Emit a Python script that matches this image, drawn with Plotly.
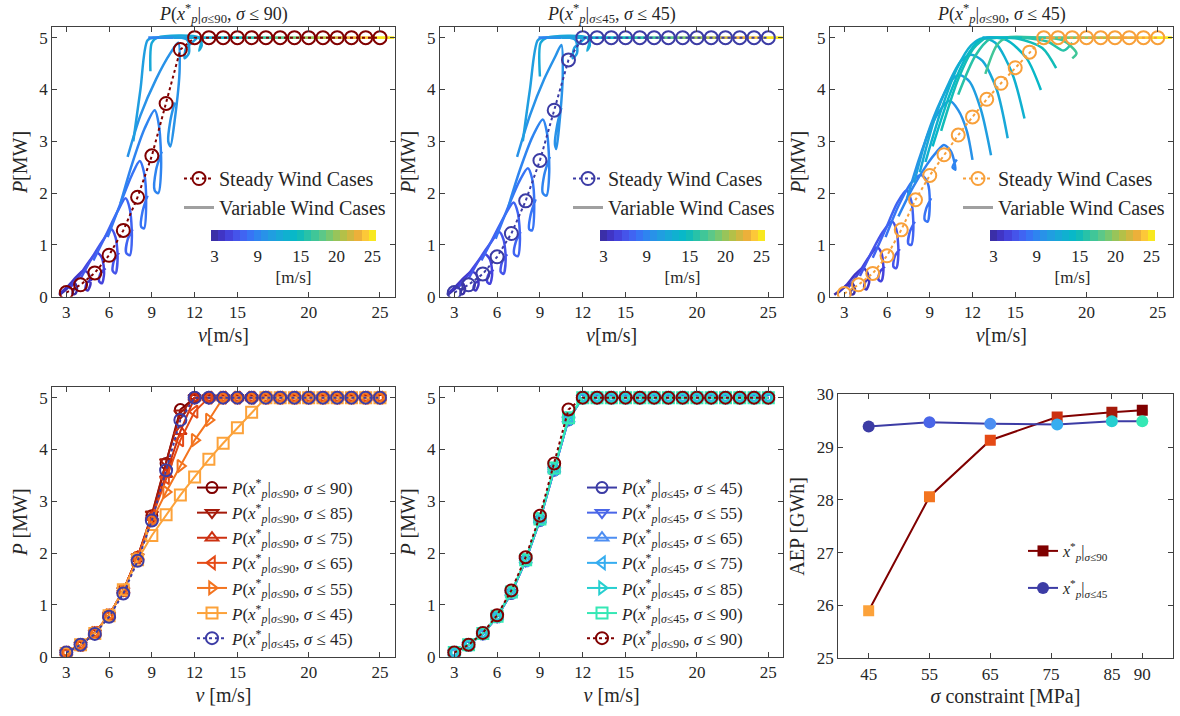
import plotly.graph_objects as go

FONT = "Liberation Serif, DejaVu Serif, serif"
TXT = "#262626"
AXC = "#404040"

# ---------------- data ----------------
WIND = [3, 4, 5, 6, 7, 8, 9, 10, 11, 12, 13, 14, 15, 16, 17, 18, 19, 20, 21, 22, 23, 24, 25]
PARULA = ["#3b2fa8", "#4035c5", "#4443dc", "#4554ea", "#4064f2", "#3774f5", "#2e84f0", "#2892e8",
          "#209ee0", "#18a8d8", "#10b0d0", "#08b8c8", "#12bcb8", "#28c2a8", "#40c698", "#5cc888",
          "#78c870", "#98c45a", "#b4c048", "#d0b840", "#ecb03a", "#fcc838", "#f8e820"]
CB_TICKS = [3, 9, 15, 20, 25]

# steady power curves [MW] at WIND
P_S90_90 = [0.08, 0.23, 0.46, 0.80, 1.28, 1.92, 2.72, 3.73, 4.77, 5, 5, 5, 5, 5, 5, 5, 5, 5, 5, 5, 5, 5, 5]
P_S90_85 = [0.08, 0.23, 0.46, 0.80, 1.28, 1.93, 2.75, 3.76, 4.70, 5, 5, 5, 5, 5, 5, 5, 5, 5, 5, 5, 5, 5, 5]
P_S90_75 = [0.08, 0.23, 0.46, 0.80, 1.28, 1.92, 2.70, 3.52, 4.35, 5, 5, 5, 5, 5, 5, 5, 5, 5, 5, 5, 5, 5, 5]
P_S90_65 = [0.08, 0.23, 0.46, 0.80, 1.28, 1.92, 2.68, 3.45, 4.18, 4.73, 5, 5, 5, 5, 5, 5, 5, 5, 5, 5, 5, 5, 5]
P_S90_55 = [0.08, 0.23, 0.46, 0.80, 1.27, 1.90, 2.62, 3.18, 3.68, 4.18, 4.57, 5, 5, 5, 5, 5, 5, 5, 5, 5, 5, 5, 5]
P_S90_45 = [0.06, 0.23, 0.45, 0.79, 1.29, 1.87, 2.34, 2.74, 3.12, 3.47, 3.81, 4.12, 4.42, 4.72, 5, 5, 5, 5, 5, 5, 5, 5, 5]
P_S45_45 = [0.08, 0.23, 0.44, 0.77, 1.22, 1.85, 2.63, 3.60, 4.57, 5, 5, 5, 5, 5, 5, 5, 5, 5, 5, 5, 5, 5, 5]
P_S45_55 = [0.08, 0.23, 0.44, 0.77, 1.23, 1.85, 2.63, 3.61, 4.58, 5, 5, 5, 5, 5, 5, 5, 5, 5, 5, 5, 5, 5, 5]
P_S45_65 = [0.08, 0.23, 0.44, 0.77, 1.23, 1.86, 2.64, 3.61, 4.58, 5, 5, 5, 5, 5, 5, 5, 5, 5, 5, 5, 5, 5, 5]
P_S45_75 = [0.08, 0.23, 0.45, 0.78, 1.24, 1.86, 2.65, 3.62, 4.59, 5, 5, 5, 5, 5, 5, 5, 5, 5, 5, 5, 5, 5, 5]
P_S45_85 = [0.08, 0.23, 0.45, 0.78, 1.24, 1.87, 2.66, 3.63, 4.60, 5, 5, 5, 5, 5, 5, 5, 5, 5, 5, 5, 5, 5, 5]
P_S45_90 = [0.08, 0.23, 0.45, 0.78, 1.25, 1.87, 2.66, 3.64, 4.61, 5, 5, 5, 5, 5, 5, 5, 5, 5, 5, 5, 5, 5, 5]

# variable wind trajectories (mean wind speed, v [m/s], P [MW])
TL_LOOPS = [
    (3, [2.5, 2.9, 3.3, 3.6, 3.75, 3.65, 3.45, 3.5, 3.8], [0.03, 0.12, 0.22, 0.26, 0.16, 0.06, 0.05, 0.13, 0.18]),
    (4, [2.5, 3.1, 3.7, 4.2, 4.55, 4.7, 4.5, 4.35, 4.45, 4.8], [0.05, 0.20, 0.38, 0.50, 0.45, 0.25, 0.12, 0.15, 0.27, 0.33]),
    (5, [3.2, 3.9, 4.6, 5.15, 5.5, 5.65, 5.5, 5.3, 5.4, 5.75], [0.15, 0.40, 0.68, 0.85, 0.75, 0.45, 0.26, 0.30, 0.45, 0.55]),
    (6, [4.0, 4.8, 5.6, 6.15, 6.45, 6.6, 6.45, 6.25, 6.35, 6.7], [0.35, 0.75, 1.10, 1.30, 1.15, 0.75, 0.45, 0.50, 0.70, 0.85]),
    (7, [4.9, 5.8, 6.6, 7.15, 7.45, 7.6, 7.45, 7.2, 7.3, 7.65], [0.70, 1.20, 1.65, 1.90, 1.70, 1.15, 0.80, 0.85, 1.10, 1.30]),
    (8, [5.9, 6.8, 7.6, 8.15, 8.45, 8.6, 8.45, 8.25, 8.35, 8.7], [1.15, 1.80, 2.35, 2.62, 2.40, 1.80, 1.32, 1.35, 1.65, 1.95]),
    (9, [6.8, 7.6, 8.5, 9.2, 9.5, 9.65, 9.45, 9.2, 9.3, 9.7], [1.80, 2.55, 3.25, 3.60, 3.30, 2.50, 2.00, 2.05, 2.45, 2.80]),
    (10, [7.3, 8.2, 9.3, 10.3, 10.85, 10.95, 10.6, 10.3, 10.15, 10.3, 10.6], [2.70, 3.50, 4.20, 4.70, 4.90, 4.40, 3.40, 2.90, 3.00, 3.40, 3.75]),
    (11, [7.7, 8.2, 8.7, 9.2, 11.0, 11.5, 11.6, 11.3, 11.4, 11.8, 12.2], [3.00, 4.00, 4.95, 5.00, 5.00, 4.95, 4.70, 4.60, 4.80, 4.90, 5.00]),
    (12, [8.9, 9.0, 9.4, 12.3, 12.5, 12.3, 12.6], [4.35, 4.90, 5.00, 5.00, 4.85, 4.75, 5.00]),
]
TM_LOOPS = [
    (3, [2.5, 2.9, 3.3, 3.6, 3.75, 3.65, 3.45, 3.5, 3.8], [0.03, 0.12, 0.21, 0.25, 0.16, 0.06, 0.05, 0.13, 0.18]),
    (4, [2.5, 3.1, 3.7, 4.2, 4.55, 4.7, 4.5, 4.35, 4.45, 4.8], [0.05, 0.20, 0.37, 0.48, 0.43, 0.24, 0.12, 0.15, 0.26, 0.32]),
    (5, [3.2, 3.9, 4.6, 5.15, 5.5, 5.65, 5.5, 5.3, 5.4, 5.75], [0.15, 0.40, 0.66, 0.82, 0.72, 0.43, 0.25, 0.29, 0.43, 0.52]),
    (6, [4.0, 4.8, 5.6, 6.15, 6.45, 6.6, 6.45, 6.25, 6.35, 6.7], [0.35, 0.74, 1.06, 1.25, 1.10, 0.72, 0.44, 0.48, 0.67, 0.82]),
    (7, [4.9, 5.8, 6.6, 7.15, 7.45, 7.6, 7.45, 7.2, 7.3, 7.65], [0.70, 1.18, 1.60, 1.82, 1.62, 1.10, 0.78, 0.82, 1.05, 1.25]),
    (8, [5.9, 6.8, 7.6, 8.15, 8.45, 8.6, 8.45, 8.25, 8.35, 8.7], [1.12, 1.75, 2.25, 2.48, 2.28, 1.72, 1.28, 1.30, 1.58, 1.88]),
    (9, [6.8, 7.6, 8.5, 9.2, 9.5, 9.65, 9.45, 9.2, 9.3, 9.7], [1.75, 2.45, 3.10, 3.42, 3.15, 2.40, 1.95, 2.00, 2.35, 2.70]),
    (10, [7.4, 8.3, 9.3, 10.1, 10.5, 10.6, 10.35, 10.15, 10.05, 10.2, 10.5], [2.70, 3.50, 4.20, 4.65, 4.86, 4.30, 3.30, 2.85, 2.95, 3.30, 3.65]),
    (11, [7.8, 8.3, 8.85, 9.3, 11.0, 11.5, 11.6, 11.3, 11.4, 11.8, 12.2], [3.00, 4.00, 4.95, 5.00, 5.00, 4.95, 4.70, 4.60, 4.80, 4.90, 5.00]),
    (12, [9.0, 9.05, 9.5, 12.3, 12.5, 12.3, 12.6], [4.25, 4.90, 5.00, 5.00, 4.85, 4.75, 5.00]),
]
TR_LOOPS = [
    (3, [2.3, 2.8, 3.2, 3.55, 3.75, 3.65, 3.45, 3.5, 3.8], [0.04, 0.14, 0.22, 0.26, 0.15, 0.05, 0.05, 0.13, 0.18]),
    (4, [2.5, 3.2, 3.8, 4.3, 4.6, 4.75, 4.55, 4.4, 4.5, 4.85], [0.06, 0.24, 0.44, 0.55, 0.48, 0.28, 0.14, 0.17, 0.30, 0.36]),
    (5, [3.3, 4.0, 4.7, 5.3, 5.6, 5.75, 5.6, 5.4, 5.5, 5.85], [0.18, 0.45, 0.75, 0.95, 0.85, 0.50, 0.30, 0.33, 0.48, 0.58]),
    (6, [4.1, 4.9, 5.7, 6.35, 6.65, 6.8, 6.65, 6.45, 6.55, 6.9], [0.40, 0.85, 1.25, 1.45, 1.30, 0.85, 0.55, 0.58, 0.78, 0.92]),
    (7, [5.0, 5.9, 6.7, 7.35, 7.7, 7.85, 7.7, 7.5, 7.6, 7.95], [0.75, 1.30, 1.80, 2.05, 1.85, 1.30, 1.00, 1.02, 1.25, 1.45]),
    (8, [5.9, 6.8, 7.7, 8.4, 8.85, 9.0, 8.85, 8.65, 8.75, 9.1], [1.15, 1.75, 2.20, 2.35, 2.20, 1.80, 1.45, 1.48, 1.70, 1.90]),
    (9, [6.8, 7.8, 8.8, 9.5, 10.0, 10.5, 10.8, 10.6, 10.9], [1.55, 2.10, 2.55, 2.80, 2.93, 2.80, 2.45, 2.50, 2.65]),
    (10, [7.4, 8.3, 9.2, 10.0, 10.4, 11.0, 11.6, 12.0], [1.90, 2.70, 3.35, 3.70, 3.78, 3.60, 3.20, 2.64]),
    (11, [7.9, 8.8, 9.8, 10.6, 11.1, 11.8, 12.6, 13.3], [2.20, 3.10, 3.80, 4.20, 4.28, 4.15, 3.60, 2.73]),
    (12, [8.3, 9.3, 10.3, 11.2, 11.9, 12.7, 13.7, 14.47], [2.40, 3.40, 4.10, 4.55, 4.67, 4.55, 4.00, 3.06]),
    (13, [8.7, 9.8, 10.9, 11.9, 12.7, 13.6, 14.8, 15.65], [2.60, 3.60, 4.40, 4.85, 4.99, 4.90, 4.30, 3.44]),
    (14, [9.2, 10.4, 11.5, 12.5, 13.2, 14.4, 15.8, 16.8], [2.90, 3.90, 4.60, 4.95, 5.00, 4.95, 4.60, 3.99]),
    (15, [9.8, 11.0, 12.1, 13.0, 13.6, 15.2, 16.9, 17.87], [3.20, 4.20, 4.80, 5.00, 5.00, 4.98, 4.80, 4.41]),
    (16, [11.0, 12.2, 13.2, 13.9, 15.5, 17.3, 18.4, 19.0], [3.90, 4.65, 4.97, 5.00, 5.00, 4.92, 4.75, 4.90]),
    (17, [12.9, 13.7, 14.4, 16.5, 18.3, 19.3, 19.0], [4.30, 4.85, 5.00, 5.00, 4.95, 4.70, 4.60]),
]
# rated-power plateau of the variable wind cases (segment edges in v)
FLAT_TL = [8.75, 9.5, 10.5, 11.5, 12.5, 13.5, 14.5, 15.5, 16.5, 17.5, 18.5, 19.5, 20.5, 21.5, 22.5, 23.5, 24.5, 25.5, 26.0]
FLAT_TM = [8.9, 9.5, 10.5, 11.5, 12.5, 13.5, 14.5, 15.5, 16.5, 17.5, 18.5, 19.5, 20.5, 21.5, 22.5, 23.5, 24.5, 25.5, 26.0]
FLAT_TR = [12.7, 13.5, 14.5, 15.5, 16.5, 17.5, 18.5, 19.5, 20.5, 21.5, 22.5, 23.5, 24.5, 25.5, 26.0]
P_RATED = 5.0

# AEP
SIGMA = [45, 55, 65, 76, 85, 90]
SIGMA_TICKS = [45, 55, 65, 75, 85, 90]
AEP_S90 = [25.90, 28.06, 29.13, 29.57, 29.66, 29.70]
AEP_S45 = [29.39, 29.47, 29.44, 29.43, 29.49, 29.49]

# ---------------- styles ----------------
RED_SHADES = ["#7f0000", "#a51a0a", "#cc3010", "#e54a15", "#f3741f", "#fca23a"]   # sigma 90 -> 45
BLUE_SHADES = ["#3c3ca5", "#4a66e8", "#4d8ef2", "#35adf0", "#26cfd0", "#35e8b5"]  # sigma 45 -> 90
NAVY = "#3c3ca5"
MAROON = "#800000"
ORANGE = "#f8a03a"


def col_at(v):
    i = int(round(v)) - WIND[0]
    i = max(0, min(len(PARULA) - 1, i))
    return PARULA[i]


def lab(design, cons):
    return ("<i>P</i>(<i>x</i><sup>*</sup><sub><i>p</i></sub>|<sub><i>σ</i>≤%d</sub>, <i>σ</i> ≤ %d)"
            % (design, cons))


fig = go.Figure()

X1 = [0.0441, 0.3347]
X2 = [0.3729, 0.6638]
X3 = [0.7034, 0.9938]
X6 = [0.7104, 0.9938]
YT = [0.5856, 0.9619]
YB = [0.0828, 0.4591]
Y6 = [0.0806, 0.4493]

CS = []
n = len(PARULA)
for i, c in enumerate(PARULA):
    CS.append([i / n, c])
    CS.append([(i + 1) / n, c])


def top_panel(k, loops, flat, steady, scol, legname, cbx):
    xa = "x" if k == 1 else "x%d" % k
    ya = "y" if k == 1 else "y%d" % k
    for V, vv, pp in loops:
        fig.add_trace(go.Scatter(x=vv, y=pp, mode="lines", xaxis=xa, yaxis=ya,
                                 line=dict(color=col_at(V), width=2.5, shape="spline", smoothing=0.8),
                                 showlegend=False, hoverinfo="skip"))
    for a, b in zip(flat[:-1], flat[1:]):
        fig.add_trace(go.Scatter(x=[a, b], y=[P_RATED, P_RATED], mode="lines", xaxis=xa, yaxis=ya,
                                 line=dict(color=col_at((a + b) / 2), width=2.8),
                                 showlegend=False, hoverinfo="skip"))
    fig.add_trace(go.Scatter(x=WIND, y=steady, mode="lines+markers", xaxis=xa, yaxis=ya,
                             name="Steady Wind Cases", legend=legname, legendgroup="a",
                             line=dict(color=scol, width=2, dash="dot"),
                             marker=dict(symbol="circle-open", size=13, line=dict(width=2, color=scol))))
    fig.add_trace(go.Scatter(x=[None], y=[None], mode="lines", xaxis=xa, yaxis=ya,
                             name="Variable Wind Cases", legend=legname, legendgroup="b",
                             line=dict(color="#a0a0a0", width=3)))
    fig.add_trace(go.Scatter(x=[None], y=[None], mode="markers", xaxis=xa, yaxis=ya, showlegend=False,
                             hoverinfo="skip",
                             marker=dict(color=[WIND[0]], colorscale=CS, cmin=2.5, cmax=25.5, showscale=True,
                                         colorbar=dict(orientation="h", x=cbx, xanchor="center",
                                                       y=1 - 230 / 716, yanchor="top", len=165 / 1180,
                                                       lenmode="fraction", thickness=11, outlinewidth=0,
                                                       xpad=0, ypad=0, tickvals=CB_TICKS, ticks="",
                                                       tickfont=dict(family=FONT, size=17, color=TXT),
                                                       title=dict(text="[m/s]", side="bottom",
                                                                  font=dict(family=FONT, size=17, color=TXT))))))


top_panel(1, TL_LOOPS, FLAT_TL, P_S90_90, MAROON, "legend", 293.5 / 1180)
top_panel(2, TM_LOOPS, FLAT_TM, P_S45_45, NAVY, "legend2", 682.5 / 1180)
top_panel(3, TR_LOOPS, FLAT_TR, P_S90_45, ORANGE, "legend3", 1072.5 / 1180)

# bottom-left
BL = [(P_S90_90, 90, "circle-open"), (P_S90_85, 85, "triangle-down-open"), (P_S90_75, 75, "triangle-up-open"),
      (P_S90_65, 65, "triangle-left-open"), (P_S90_55, 55, "triangle-right-open"), (P_S90_45, 45, "square-open")]
for (pp, s, sym), c in zip(BL, RED_SHADES):
    fig.add_trace(go.Scatter(x=WIND, y=pp, mode="lines+markers", xaxis="x4", yaxis="y4", name=lab(90, s),
                             legend="legend4", line=dict(color=c, width=2),
                             marker=dict(symbol=sym, size=11, line=dict(width=2, color=c))))
fig.add_trace(go.Scatter(x=WIND, y=P_S45_45, mode="lines+markers", xaxis="x4", yaxis="y4", name=lab(45, 45),
                         legend="legend4", line=dict(color=NAVY, width=2, dash="dot"),
                         marker=dict(symbol="circle-open", size=12, line=dict(width=2, color=NAVY))))

# bottom-middle
BM = [(P_S45_45, 45, "circle-open"), (P_S45_55, 55, "triangle-down-open"), (P_S45_65, 65, "triangle-up-open"),
      (P_S45_75, 75, "triangle-left-open"), (P_S45_85, 85, "triangle-right-open"), (P_S45_90, 90, "square-open")]
for (pp, s, sym), c in zip(BM, BLUE_SHADES):
    fig.add_trace(go.Scatter(x=WIND, y=pp, mode="lines+markers", xaxis="x5", yaxis="y5", name=lab(45, s),
                             legend="legend5", line=dict(color=c, width=2),
                             marker=dict(symbol=sym, size=11, line=dict(width=2, color=c))))
fig.add_trace(go.Scatter(x=WIND, y=P_S90_90, mode="lines+markers", xaxis="x5", yaxis="y5", name=lab(90, 90),
                         legend="legend5", line=dict(color=MAROON, width=2, dash="dot"),
                         marker=dict(symbol="circle-open", size=12, line=dict(width=2, color=MAROON))))

# bottom-right (red series drawn from sigma 90 down so its legend marker is the maroon one)
fig.add_trace(go.Scatter(x=SIGMA[::-1], y=AEP_S90[::-1], mode="lines+markers", xaxis="x6", yaxis="y6",
                         name="<i>x</i><sup>*</sup><sub><i>p</i></sub>|<sub><i>σ</i>≤90</sub>",
                         legend="legend6", line=dict(color=MAROON, width=2),
                         marker=dict(symbol="square", size=11, color=RED_SHADES)))
fig.add_trace(go.Scatter(x=SIGMA, y=AEP_S45, mode="lines+markers", xaxis="x6", yaxis="y6",
                         name="<i>x</i><sup>*</sup><sub><i>p</i></sub>|<sub><i>σ</i>≤45</sub>",
                         legend="legend7", line=dict(color=NAVY, width=2),
                         marker=dict(symbol="circle", size=12, color=BLUE_SHADES)))


def axis(domain, rng, tickvals, anchor, title=None, standoff=6):
    d = dict(domain=domain, range=rng, tickvals=tickvals, anchor=anchor, showline=True, linecolor=AXC,
             linewidth=1, mirror="ticks", ticks="inside", ticklen=5, tickcolor=AXC, showgrid=False,
             zeroline=False, tickfont=dict(family=FONT, size=17, color=TXT))
    if title:
        d["title"] = dict(text=title, font=dict(family=FONT, size=20, color=TXT), standoff=standoff)
    return d


VT = [3, 6, 9, 12, 15, 20, 25]
PT = [0, 1, 2, 3, 4, 5]
fig.update_layout(
    xaxis=axis(X1, [2, 26.05], VT, "y", "<i>v</i>[m/s]"),
    yaxis=axis(YT, [0, 5.2], PT, "x", "<i>P</i>[MW]"),
    xaxis2=axis(X2, [2, 26.05], VT, "y2", "<i>v</i>[m/s]"),
    yaxis2=axis(YT, [0, 5.2], PT, "x2", "<i>P</i>[MW]"),
    xaxis3=axis(X3, [2, 26.05], VT, "y3", "<i>v</i>[m/s]"),
    yaxis3=axis(YT, [0, 5.2], PT, "x3", "<i>P</i>[MW]"),
    xaxis4=axis(X1, [2, 26.05], VT, "y4", "<i>v</i> [m/s]"),
    yaxis4=axis(YB, [0, 5.2], PT, "x4", "<i>P</i> [MW]"),
    xaxis5=axis(X2, [2, 26.05], VT, "y5", "<i>v</i> [m/s]"),
    yaxis5=axis(YB, [0, 5.2], PT, "x5", "<i>P</i> [MW]"),
    xaxis6=axis(X6, [40, 95], SIGMA_TICKS, "y6", "<i>σ</i> constraint [MPa]"),
    yaxis6=axis(Y6, [25, 30], [25, 26, 27, 28, 29, 30], "x6", "AEP [GWh]"),
)

LEG = dict(bgcolor="rgba(0,0,0,0)", borderwidth=0, xanchor="left", yanchor="top", tracegroupgap=0)
fig.update_layout(
    legend=dict(LEG, x=179 / 1180, y=1 - 159 / 716, font=dict(family=FONT, size=20, color=TXT)),
    legend2=dict(LEG, x=568 / 1180, y=1 - 159 / 716, font=dict(family=FONT, size=20, color=TXT)),
    legend3=dict(LEG, x=958 / 1180, y=1 - 159 / 716, font=dict(family=FONT, size=20, color=TXT)),
    legend4=dict(LEG, x=192 / 1180, y=1 - 470 / 716, font=dict(family=FONT, size=17, color=TXT)),
    legend5=dict(LEG, x=582 / 1180, y=1 - 470 / 716, font=dict(family=FONT, size=17, color=TXT)),
    legend6=dict(LEG, x=1023 / 1180, y=1 - 534 / 716, font=dict(family=FONT, size=16, color=TXT)),
    legend7=dict(LEG, x=1023 / 1180, y=1 - 571 / 716, font=dict(family=FONT, size=16, color=TXT)),
)

for xc, t in [((X1[0] + X1[1]) / 2, lab(90, 90)), ((X2[0] + X2[1]) / 2, lab(45, 45)),
              ((X3[0] + X3[1]) / 2, lab(90, 45))]:
    fig.add_annotation(x=xc, y=1 - 13 / 716, xref="paper", yref="paper", text=t, showarrow=False,
                       xanchor="center", yanchor="middle", font=dict(family=FONT, size=18, color=TXT))

fig.update_layout(width=1180, height=716, margin=dict(l=0, r=0, t=0, b=0, autoexpand=False),
                  paper_bgcolor="white", plot_bgcolor="white", showlegend=True)
fig.write_html("out.html")
